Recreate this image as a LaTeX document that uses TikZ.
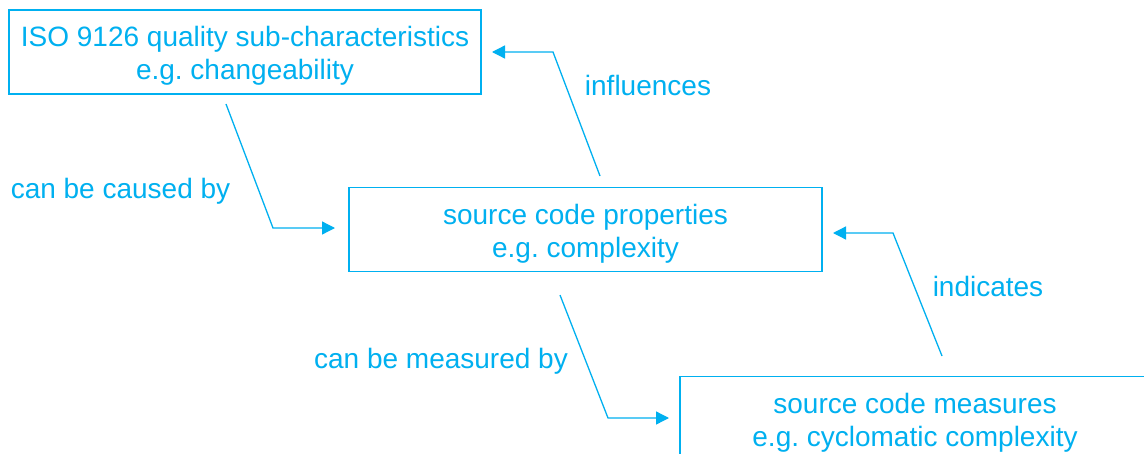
\documentclass[tikz,border=0pt]{standalone}
\usepackage{fontspec}
\setmainfont{Liberation Sans}
\frenchspacing
\usetikzlibrary{arrows.meta}
\definecolor{cy}{RGB}{0,176,240}
\begin{document}
\begin{tikzpicture}[x=1pt,y=-1pt,
  boxnode/.style={draw=cy,line width=1.6pt,inner sep=0pt,minimum height=84pt},
  boxtext/.style={text=cy,align=center,inner sep=0pt,yshift=-4pt,font=\fontsize{28}{33}\selectfont},
  lbl/.style={text=cy,inner sep=0pt,anchor=base,font=\fontsize{28}{33}\selectfont},
  conn/.style={draw=cy,line width=1.3pt,-{Triangle[length=13pt,width=13pt]}}]
\clip (0,0) rectangle (1144,453);
\fill[white] (0,0) rectangle (1144,453);
\node[boxnode,minimum width=472pt] (iso) at (245,52) {};
\node[boxtext] (isotxt) at (iso.center) {ISO 9126 quality sub-characteristics\\e.g. changeability};
\node[boxnode,minimum width=473pt] (props) at (585.5,229.5) {};
\node[boxtext] (propstxt) at (props.center) {source code properties\\e.g. complexity};
\node[boxnode,minimum width=470pt] (meas) at (915,418.5) {};
\node[boxtext] (meastxt) at (meas.center) {source code measures\\e.g. cyclomatic complexity};
\node[lbl] (l1) at (120.5,198) {can be caused by};
\node[lbl] (l2) at (648,95) {influences};
\node[lbl] (l3) at (441,368) {can be measured by};
\node[lbl] (l4) at (988,296) {indicates};
\coordinate (a1s) at (226,104);
\coordinate (a1c) at (273,228);
\coordinate (a1e) at (335,228);
\coordinate (a2s) at (600,176);
\coordinate (a2c) at (553,52);
\coordinate (a2e) at (492,52);
\coordinate (a3s) at (560,295);
\coordinate (a3c) at (608,418);
\coordinate (a3e) at (669,418);
\coordinate (a4s) at (942,356);
\coordinate (a4c) at (893,233);
\coordinate (a4e) at (833,233);
\draw[conn] (a1s) -- (a1c) -- (a1e);
\draw[conn] (a2s) -- (a2c) -- (a2e);
\draw[conn] (a3s) -- (a3c) -- (a3e);
\draw[conn] (a4s) -- (a4c) -- (a4e);
\end{tikzpicture}
\end{document}
